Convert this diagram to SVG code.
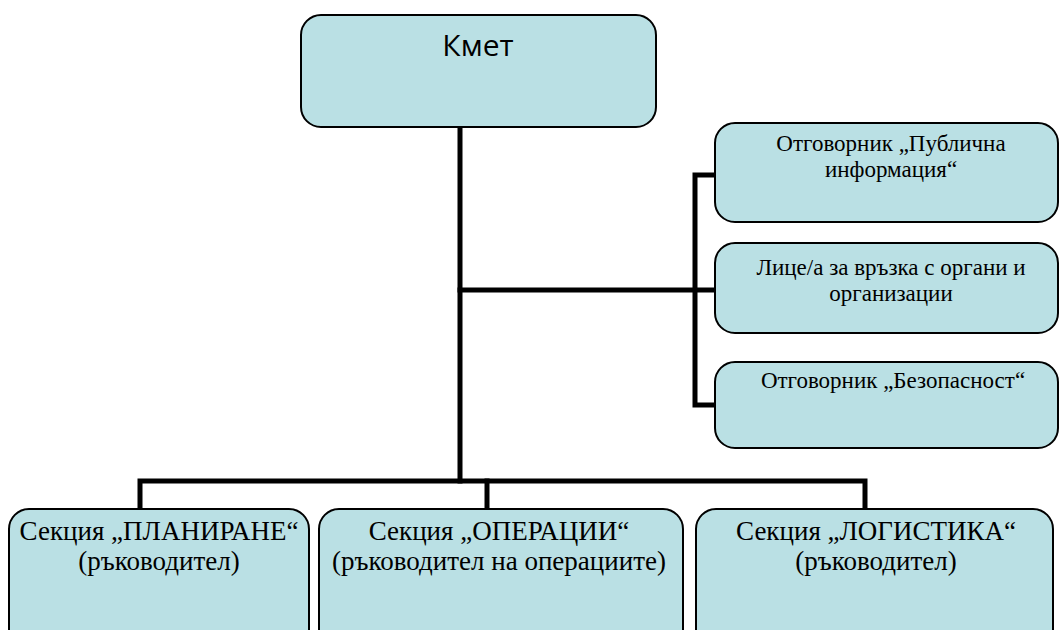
<svg xmlns="http://www.w3.org/2000/svg" width="1060" height="630" viewBox="0 0 1060 630">
<style>
.box{fill:#BAE0E4;stroke:#000;stroke-width:2}
.conn{fill:none;stroke:#000;stroke-width:5;stroke-linejoin:miter;stroke-linecap:square}
.t{font-family:'Liberation Serif','Times New Roman',serif;fill:#000;text-anchor:middle}
.s{font-size:23px}
.b{font-size:27px}
.k{font-family:'Open Sans','Liberation Sans',sans-serif;font-size:30px;fill:#000;text-anchor:middle}
</style>
<rect width="1060" height="630" fill="#fff"/>
<g id="connectors">
<path class="conn" d="M460 129 V481"/>
<path class="conn" d="M140 507 V481 H865 V507"/>
<path class="conn" d="M487 481 V507"/>
<path class="conn" d="M460 290 H713"/>
<path class="conn" d="M713 175 H695 V405 H713"/>
</g>
<g id="mayor">
<rect class="box" x="301" y="15" width="355" height="112" rx="20"/>
<text class="k" x="478" y="56">Кмет</text>
</g>
<g id="public-info">
<rect class="box" x="715" y="123" width="343" height="99" rx="20"/>
<text class="t s" x="891" y="151">Отговорник „Публична</text>
<text class="t s" x="891" y="177">информация“</text>
</g>
<g id="liaison">
<rect class="box" x="715" y="243" width="343" height="90" rx="20"/>
<text class="t s" x="891" y="275">Лице/а за връзка с органи и</text>
<text class="t s" x="891" y="301">организации</text>
</g>
<g id="safety">
<rect class="box" x="715" y="362" width="343" height="86" rx="20"/>
<text class="t s" x="893" y="388">Отговорник „Безопасност“</text>
</g>
<g id="planning">
<rect class="box" x="9" y="509" width="300" height="140" rx="20"/>
<text class="t b" x="159" y="540">Секция „ПЛАНИРАНЕ“</text>
<text class="t b" x="159" y="570">(ръководител)</text>
</g>
<g id="operations">
<rect class="box" x="319" y="509" width="364" height="140" rx="20"/>
<text class="t b" x="499" y="540">Секция „ОПЕРАЦИИ“</text>
<text class="t b" x="499" y="570">(ръководител на операциите)</text>
</g>
<g id="logistics">
<rect class="box" x="696" y="509" width="357" height="140" rx="20"/>
<text class="t b" x="876" y="540">Секция „ЛОГИСТИКА“</text>
<text class="t b" x="876" y="570">(ръководител)</text>
</g>
</svg>
